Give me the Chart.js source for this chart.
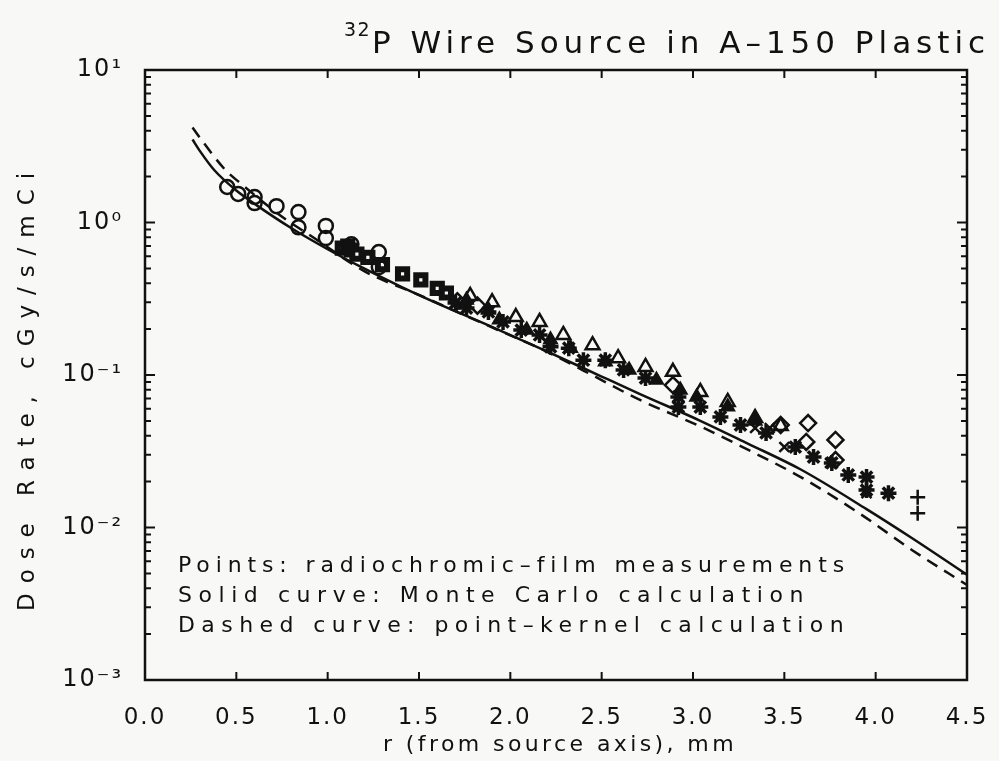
<!DOCTYPE html>
<html>
<head>
<meta charset="utf-8">
<script src="https://cdn.jsdelivr.net/npm/chart.js@4.4.0/dist/chart.umd.min.js"></script>
<style>
  html, body { margin: 0; padding: 0; background: #f8f8f6; }
  #wrap { width: 999px; height: 761px; }
</style>
</head>
<body>
<div id="wrap"><canvas id="doseChart" width="999" height="761"></canvas></div>
<script>
// Monte Carlo curve (solid)
const solidR = [0.26, 0.30, 0.38, 0.50, 0.61, 0.80, 1.00, 1.18, 1.40, 1.60, 1.89, 2.20, 2.50, 2.71, 3.04, 3.30, 3.59, 3.95, 4.20, 4.50];
const solidDose = [3.50, 2.95, 2.20, 1.62, 1.30, 0.92, 0.668, 0.513, 0.380, 0.295, 0.209, 0.143, 0.0977, 0.0750, 0.0501, 0.0355, 0.0240, 0.0132, 0.0085, 0.0049];

// Point-kernel curve (dashed)
const dashR = [0.26, 0.31, 0.44, 0.52, 0.76, 0.92, 1.20, 1.50, 1.90, 2.18, 2.40, 2.71, 3.04, 3.30, 3.59, 3.91, 4.20, 4.50];
const dashDose = [4.20, 3.47, 2.21, 1.82, 1.07, 0.80, 0.48, 0.335, 0.205, 0.146, 0.107, 0.0686, 0.046, 0.0324, 0.0214, 0.0124, 0.0071, 0.0042];

// Film measurements, one pair of arrays per marker
const circR = [0.45, 0.51, 0.60, 0.60, 0.72, 0.84, 0.84, 0.99, 0.99, 1.13, 1.28, 1.28];
const circDose = [1.71, 1.54, 1.47, 1.34, 1.28, 1.17, 0.93, 0.95, 0.79, 0.72, 0.64, 0.51];

const sqR = [1.08, 1.11, 1.13, 1.16, 1.22, 1.30, 1.41, 1.51, 1.60, 1.65];
const sqDose = [0.68, 0.70, 0.66, 0.62, 0.59, 0.53, 0.46, 0.42, 0.37, 0.345];

const triR = [1.78, 1.90, 2.03, 2.16, 2.29, 2.45, 2.59, 2.74, 2.89, 3.04, 3.19, 3.34, 3.48];
const triDose = [0.33, 0.30, 0.240, 0.223, 0.183, 0.157, 0.129, 0.113, 0.105, 0.0774, 0.0666, 0.0522, 0.0463];

const solidTriR = [1.76, 1.88, 1.94, 2.09, 2.22, 2.33, 2.52, 2.65, 2.80, 2.93, 3.02, 3.19, 3.34];
const solidTriDose = [0.31, 0.267, 0.23, 0.197, 0.170, 0.150, 0.122, 0.108, 0.0927, 0.0798, 0.0718, 0.062, 0.050];

const starR = [1.70, 1.76, 1.88, 1.96, 2.06, 2.16, 2.22, 2.32, 2.40, 2.52, 2.62, 2.74, 2.92, 2.92, 3.04, 3.15, 3.26, 3.40, 3.56, 3.66, 3.76, 3.85, 3.95, 3.95, 4.07];
const starDose = [0.297, 0.275, 0.259, 0.223, 0.197, 0.183, 0.153, 0.150, 0.125, 0.125, 0.108, 0.0955, 0.0718, 0.0617, 0.0617, 0.0531, 0.0470, 0.0417, 0.0337, 0.0290, 0.0265, 0.0221, 0.0214, 0.0176, 0.0168];

const xR = [3.34, 3.42, 3.50, 3.75, 3.95];
const xDose = [0.0449, 0.0449, 0.0337, 0.0265, 0.0168];

const diaR = [1.71, 1.82, 2.89, 3.48, 3.63, 3.62, 3.78, 3.78];
const diaDose = [0.305, 0.285, 0.0859, 0.047, 0.0484, 0.0364, 0.0375, 0.0277];

const plusR = [4.23, 4.23];
const plusDose = [0.0158, 0.0124];

// axis ticks
const xTicks = [0.5, 1.0, 1.5, 2.0, 2.5, 3.0, 3.5, 4.0];
const decades = [-3, -2, -1, 0];
const supers = { '-3': '⁻³', '-2': '⁻²', '-1': '⁻¹', '0': '⁰', '1': '¹' };

const ink = '#111';
const paper = '#f8f8f6';

function pts(rs, ds) {
    return rs.map((r, i) => ({ x: r, y: ds[i] }));
}

function markers(label, rs, ds, style, radius, width, fill) {
    return {
        label: label,
        data: pts(rs, ds),
        pointStyle: style,
        pointRadius: radius,
        pointBorderWidth: width,
        pointBorderColor: ink,
        pointBackgroundColor: fill || 'rgba(0,0,0,0)',
        showLine: false
    };
}

// draw text stretched to a given width with letter spacing
function spacedText(ctx, text, x, y, width, font) {
    ctx.font = font;
    ctx.letterSpacing = '0px';
    const w = ctx.measureText(text).width;
    const sp = (width - w) / text.length;
    ctx.letterSpacing = sp + 'px';
    ctx.textAlign = 'left';
    ctx.fillText(text, x, y);
    ctx.letterSpacing = '0px';
}

const framePlugin = {
    id: 'frame',
    beforeLayout(chart) {
        chart.ctx.letterSpacing = '2px';
    },
    beforeDraw(chart) {
        const ctx = chart.ctx;
        ctx.save();
        ctx.fillStyle = paper;
        ctx.fillRect(0, 0, chart.width, chart.height);
        ctx.restore();
        ctx.letterSpacing = '2px';
    },
    afterDraw(chart) {
        const ctx = chart.ctx;
        const a = chart.chartArea;
        const xs = chart.scales.x;
        const ys = chart.scales.y;
        ctx.save();
        ctx.strokeStyle = ink;
        ctx.lineWidth = 2.5;
        ctx.strokeRect(a.left, a.top, a.right - a.left, a.bottom - a.top);

        // log ticks on both sides
        ctx.lineWidth = 2;
        ctx.beginPath();
        decades.forEach(e => {
            for (let m = 1; m <= 9; m++) {
                const py = ys.getPixelForValue(m * Math.pow(10, e));
                const len = m === 1 ? 10 : 6;
                ctx.moveTo(a.left, py); ctx.lineTo(a.left + len, py);
                ctx.moveTo(a.right, py); ctx.lineTo(a.right - len, py);
            }
        });
        xTicks.forEach(v => {
            const px = xs.getPixelForValue(v);
            ctx.moveTo(px, a.bottom); ctx.lineTo(px, a.bottom - 8);
            ctx.moveTo(px, a.top); ctx.lineTo(px, a.top + 8);
        });
        ctx.stroke();

        ctx.fillStyle = ink;
        ctx.textBaseline = 'alphabetic';
        // title
        spacedText(ctx, '32', 344, 36, 27, '19px "DejaVu Sans"');
        spacedText(ctx, 'P Wire Source in A–150 Plastic', 372, 53, 618, '31px "DejaVu Sans"');

        // notes inside the plot
        spacedText(ctx, 'Points: radiochromic–film measurements', 178, 572, 672, '22px "DejaVu Sans"');
        spacedText(ctx, 'Solid curve: Monte Carlo calculation', 178, 602, 632, '22px "DejaVu Sans"');
        spacedText(ctx, 'Dashed curve: point–kernel calculation', 178, 632, 672, '22px "DejaVu Sans"');

        // axis titles
        spacedText(ctx, 'r (from source axis), mm', 383, 751, 354, '22px "DejaVu Sans"');
        ctx.translate(34, 387);
        ctx.rotate(-Math.PI / 2);
        spacedText(ctx, 'Dose Rate, cGy/s/mCi', -224, 0, 448, '23px "DejaVu Sans"');
        ctx.restore();
    }
};

Chart.defaults.font.family = '"DejaVu Sans", sans-serif';
Chart.defaults.color = ink;

const ctx = document.getElementById('doseChart').getContext('2d');
const doseChart = new Chart(ctx, {
    type: 'scatter',
    data: {
        datasets: [
            {
                label: 'Monte Carlo',
                data: pts(solidR, solidDose),
                showLine: true,
                borderColor: ink,
                borderWidth: 2.5,
                pointRadius: 0,
                cubicInterpolationMode: 'monotone'
            },
            {
                label: 'Point kernel',
                data: pts(dashR, dashDose),
                showLine: true,
                borderColor: ink,
                borderWidth: 2.5,
                borderDash: [12, 8],
                pointRadius: 0,
                cubicInterpolationMode: 'monotone'
            },
            markers('circles', circR, circDose, 'circle', 7, 2.5),
            markers('squares', sqR, sqDose, 'rect', 6.5, 6, paper),
            markers('triangles', triR, triDose, 'triangle', 8, 2.5),
            markers('dark triangles', solidTriR, solidTriDose, 'triangle', 7, 2.5, ink),
            markers('stars', starR, starDose, 'star', 8, 3.5),
            markers('crosses', xR, xDose, 'crossRot', 7, 2.5),
            markers('diamonds', diaR, diaDose, 'rectRot', 8, 2.5),
            markers('plus', plusR, plusDose, 'cross', 7.5, 2.5)
        ]
    },
    options: {
        responsive: false,
        animation: false,
        layout: {
            padding: { top: 70, right: 32, left: 0, bottom: 0 }
        },
        plugins: {
            legend: { display: false },
            tooltip: { enabled: false },
            title: { display: false }
        },
        scales: {
            x: {
                type: 'linear',
                min: 0,
                max: 4.5,
                grid: { display: false },
                border: { display: false },
                ticks: {
                    stepSize: 0.5,
                    padding: 16,
                    font: { size: 23 },
                    color: ink,
                    callback: v => v.toFixed(1)
                },
                afterFit: scale => {
                    scale.height = 81;
                    scale.paddingLeft = 0;
                    scale.paddingRight = 0;
                }
            },
            y: {
                type: 'logarithmic',
                min: 0.001,
                max: 10,
                grid: { display: false },
                border: { display: false },
                ticks: {
                    autoSkip: false,
                    padding: 14,
                    font: { size: 24 },
                    color: ink,
                    callback: v => {
                        const e = Math.log10(v);
                        if (Math.abs(e - Math.round(e)) < 1e-6) {
                            return '10' + supers[String(Math.round(e))];
                        }
                        return '';
                    }
                },
                afterFit: scale => {
                    scale.width = 145;
                    scale.paddingTop = 0;
                    scale.paddingBottom = 0;
                }
            }
        }
    },
    plugins: [framePlugin]
});
</script>
</body>
</html>
